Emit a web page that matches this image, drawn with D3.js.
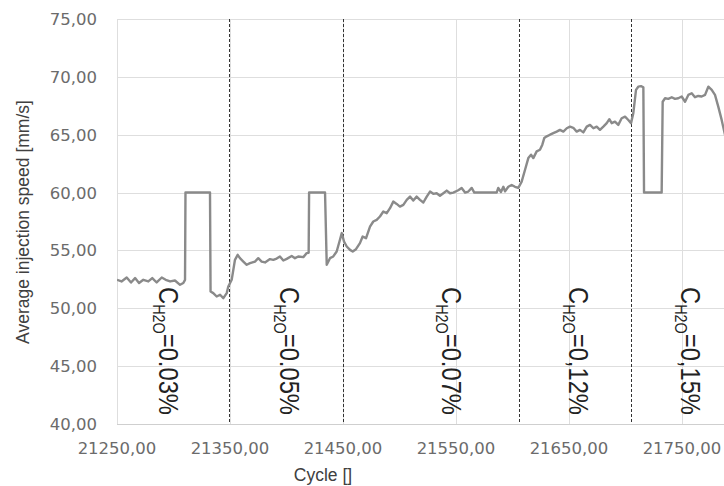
<!DOCTYPE html>
<html>
<head>
<meta charset="utf-8">
<script src="https://cdn.jsdelivr.net/npm/d3@7"></script>
<style>
  html, body { margin: 0; padding: 0; background: #fff; }
  svg { display: block; }
</style>
</head>
<body>
<svg id="chart" width="724" height="486"></svg>
<script>
// Average injection speed per cycle
const cycles = [
  21250, 21254, 21258.6, 21262.4, 21266, 21269.5, 21273.3, 21277.7, 21281.2, 21285.1,
  21289.6, 21293.1, 21297, 21301.3, 21305.8, 21308.7, 21310.2, 21310.6, 21332.3, 21332.8,
  21335.2, 21338.2, 21341.2, 21344.1, 21347.1, 21348.5, 21351.5, 21354.4, 21356.8, 21358.8,
  21361.8, 21364.8, 21367.7, 21372.1, 21375, 21378, 21381, 21385.4, 21388.3, 21391.3,
  21394.2, 21397.2, 21400.2, 21404.6, 21407.5, 21410.4, 21414.9, 21417.9, 21419.6, 21420,
  21434.1, 21435.6, 21438.5, 21441.4, 21444.4, 21447.3, 21448.9, 21450.9, 21453.3, 21456.2,
  21458.6, 21461.5, 21465, 21467.4, 21470.4, 21473.9, 21476.8, 21479.8, 21482.7, 21485.7,
  21488.7, 21491.6, 21494.5, 21497.5, 21500.4, 21503.4, 21506.4, 21509.3, 21512.2, 21515.2,
  21518.1, 21521.1, 21524.1, 21527, 21529.9, 21532.9, 21535.8, 21538.8, 21541.8, 21544.7,
  21547.6, 21552, 21555, 21558, 21560.9, 21563.9, 21566.2, 21586, 21587.4, 21589.8,
  21591.9, 21593.4, 21596.3, 21599.3, 21602.2, 21605.1, 21608.1, 21611.1, 21614, 21616.4,
  21618.4, 21621.4, 21624.3, 21626.4, 21628.1, 21630.3, 21633.2, 21636.1, 21639.1, 21642,
  21645, 21648, 21650.9, 21653.8, 21656.8, 21659.7, 21662.7, 21665.7, 21668.6, 21671.6,
  21674.5, 21677.4, 21680.4, 21683.4, 21685.7, 21687.8, 21690.7, 21693.6, 21696.6, 21699.6,
  21702.5, 21704.9, 21706.9, 21709.3, 21711.3, 21713.7, 21715.8, 21716.4, 21732, 21732.9,
  21735, 21737.9, 21740.9, 21743.8, 21746.7, 21749.7, 21752.7, 21755.6, 21758.6, 21761.5,
  21764.4, 21767.4, 21770.4, 21773.3, 21776.3, 21779.2, 21782.1, 21785.1, 21787.4, 21790
];
const speeds = [
  52.46, 52.32, 52.66, 52.23, 52.61, 52.18, 52.46, 52.32, 52.61, 52.23,
  52.66, 52.46, 52.32, 52.40, 52.03, 52.18, 52.46, 60.00, 60.00, 51.45,
  51.31, 51.02, 51.17, 50.88, 51.31, 51.88, 52.46, 54.19, 54.62, 54.33,
  54.04, 53.76, 53.90, 54.04, 54.33, 54.04, 53.96, 54.25, 54.19, 54.30,
  54.48, 54.13, 54.27, 54.52, 54.33, 54.48, 54.42, 54.77, 54.80, 60.00,
  60.00, 53.76, 54.33, 54.48, 54.91, 55.92, 56.50, 55.77, 55.34, 55.05,
  54.91, 55.11, 55.63, 56.20, 56.06, 57.06, 57.50, 57.64, 57.93, 58.36,
  58.22, 58.65, 59.22, 59.02, 58.79, 58.94, 59.37, 59.65, 59.31, 59.65,
  59.37, 59.14, 59.65, 60.09, 59.89, 59.94, 59.72, 59.94, 60.17, 59.94,
  60.00, 60.20, 60.40, 60.00, 60.09, 60.40, 60.00, 60.00, 60.40, 60.05,
  60.50, 60.10, 60.50, 60.66, 60.50, 60.40, 60.95, 61.97, 62.98, 63.27,
  62.98, 63.56, 63.70, 64.14, 64.71, 64.86, 65.00, 65.13, 65.27, 65.42,
  65.27, 65.56, 65.70, 65.60, 65.27, 65.42, 65.20, 65.70, 65.85, 65.56,
  65.70, 65.42, 65.70, 66.00, 66.34, 66.00, 66.13, 65.85, 66.42, 66.56,
  66.27, 66.00, 66.85, 68.87, 69.15, 69.20, 69.10, 60.00, 60.00, 67.85,
  68.15, 68.10, 68.24, 68.10, 68.15, 68.30, 67.85, 68.44, 68.58, 68.24,
  68.35, 68.30, 68.44, 69.15, 68.87, 68.44, 67.43, 66.28, 65.27, 64.20
];

// Axis ticks
const yTicks = [40, 45, 50, 55, 60, 65, 70, 75];
const xTicks = [21250, 21350, 21450, 21550, 21650, 21750];

// Cycles where the water content was changed, and the concentration of each phase
const boundaryCycles = [21349, 21450, 21606, 21705];
const labelCycles = [21287, 21394, 21537.5, 21650, 21749];
const concentrations = ["0.03%", "0.05%", "0.07%", "0,12%", "0,15%"];

const svg = d3.select("#chart");
const plot = { left: 117, top: 19, right: 724, bottom: 424 };

const x = d3.scaleLinear().domain([21250, 21750]).range([plot.left, 682]);
const y = d3.scaleLinear().domain([40, 75]).range([plot.bottom, plot.top]);

const fmt = v => d3.format(".2f")(v).replace(".", ",");

svg.append("rect").attr("width", 724).attr("height", 486).attr("fill", "#fff");

svg.append("clipPath").attr("id", "plotClip")
  .append("rect")
  .attr("x", plot.left).attr("y", plot.top - 5)
  .attr("width", plot.right - plot.left).attr("height", plot.bottom - plot.top + 10);

// Gridlines
const grid = svg.append("g");
grid.selectAll("line.h").data(yTicks).join("line")
  .attr("x1", plot.left).attr("x2", plot.right)
  .attr("y1", d => Math.round(y(d)) + 0.5).attr("y2", d => Math.round(y(d)) + 0.5)
  .attr("stroke", d => d === 40 ? "#cfcfcf" : "#dedede").attr("stroke-width", 1);
grid.selectAll("line.v").data(xTicks).join("line")
  .attr("x1", d => Math.round(x(d)) + 0.5).attr("x2", d => Math.round(x(d)) + 0.5)
  .attr("y1", plot.top).attr("y2", plot.bottom)
  .attr("stroke", "#dedede").attr("stroke-width", 1);

// Tick labels
svg.append("g").selectAll("text").data(yTicks).join("text")
  .attr("x", 97).attr("y", d => y(d))
  .attr("dy", "0.36em")
  .attr("text-anchor", "end")
  .attr("font-family", "'DejaVu Sans', Verdana, sans-serif")
  .attr("font-size", 16.5)
  .attr("fill", "#6b6b6b")
  .text(fmt);

svg.append("g").selectAll("text").data(xTicks).join("text")
  .attr("x", d => x(d)).attr("y", 454)
  .attr("text-anchor", "middle")
  .attr("font-family", "'DejaVu Sans', Verdana, sans-serif")
  .attr("font-size", 16.5)
  .attr("fill", "#6b6b6b")
  .text(fmt);

// Axis titles
svg.append("text")
  .attr("transform", "translate(29,222) rotate(-90)")
  .attr("text-anchor", "middle")
  .attr("font-family", "'Liberation Sans', Arial, sans-serif")
  .attr("font-size", 17.5)
  .attr("fill", "#404040")
  .text("Average injection speed [mm/s]");

svg.append("text")
  .attr("x", 323).attr("y", 481)
  .attr("text-anchor", "middle")
  .attr("font-family", "'Liberation Sans', Arial, sans-serif")
  .attr("font-size", 17.5)
  .attr("fill", "#404040")
  .text("Cycle []");

// Phase boundaries
svg.append("g").selectAll("line").data(boundaryCycles).join("line")
  .attr("x1", d => Math.round(x(d)) + 0.5).attr("x2", d => Math.round(x(d)) + 0.5)
  .attr("y1", plot.top).attr("y2", plot.bottom)
  .attr("stroke", "#333").attr("stroke-width", 1)
  .attr("stroke-dasharray", "3,2");

// Speed trace
const line = d3.line().x(d => x(d[0])).y(d => y(d[1]));
svg.append("path")
  .datum(d3.zip(cycles, speeds))
  .attr("clip-path", "url(#plotClip)")
  .attr("fill", "none")
  .attr("stroke", "#8a8a8a")
  .attr("stroke-width", 2.4)
  .attr("stroke-linejoin", "round")
  .attr("d", line);

// Concentration labels
const labels = svg.append("g")
  .attr("font-family", "'Liberation Sans', Arial, sans-serif")
  .attr("fill", "#222");
labelCycles.forEach((c, i) => {
  const t = labels.append("text")
    .attr("transform", `translate(${x(c)},287) rotate(90)`)
    .attr("font-size", 28)
    .attr("textLength", 128)
    .attr("lengthAdjust", "spacingAndGlyphs");
  t.append("tspan").text("C");
  t.append("tspan").attr("font-size", 17).attr("dy", 6).text("H2O");
  t.append("tspan").attr("dy", -6).text("=" + concentrations[i]);
});
</script>
</body>
</html>
